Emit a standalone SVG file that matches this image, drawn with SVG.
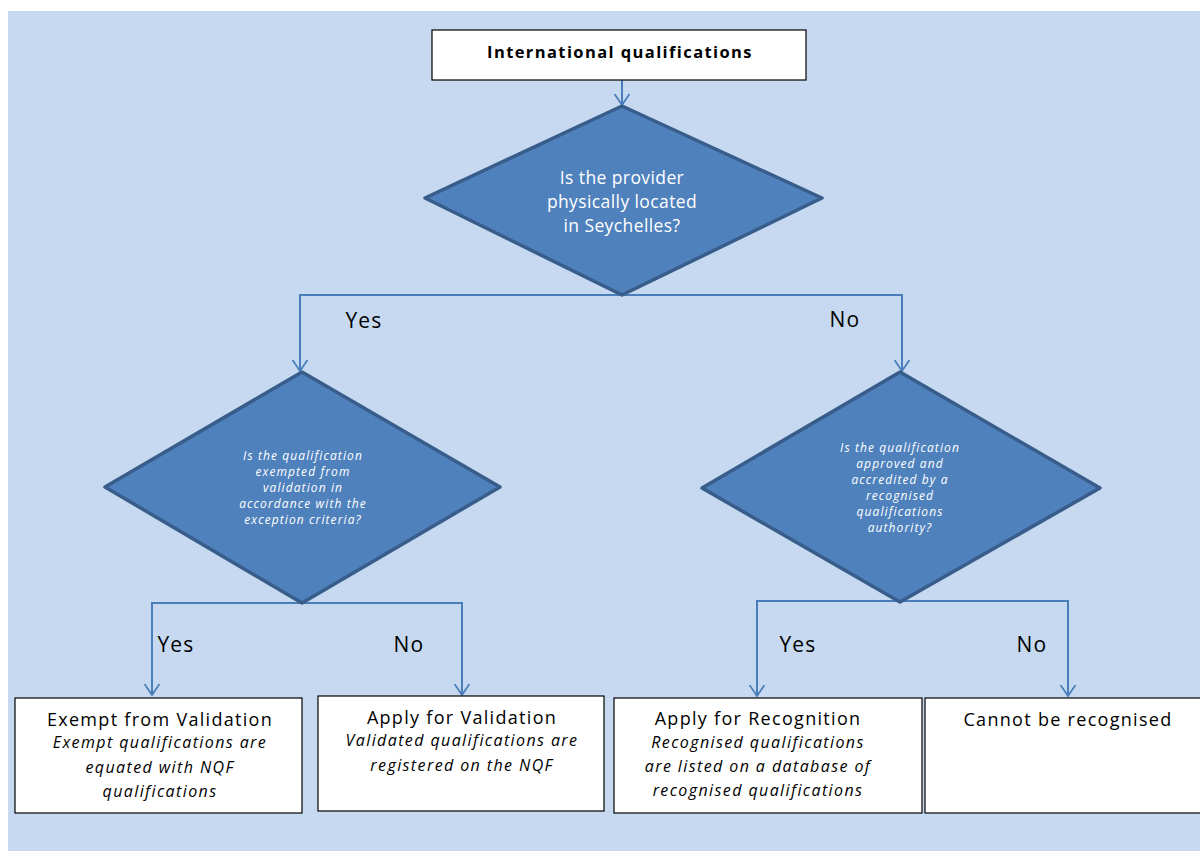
<svg xmlns="http://www.w3.org/2000/svg" width="1200" height="851" viewBox="0 0 1200 851">
<defs>
<marker id="ah" viewBox="0 0 12 16" refX="11" refY="8" markerWidth="12" markerHeight="16" markerUnits="userSpaceOnUse" orient="auto">
<path d="M0,0.5 L11,8 L0,15.5" fill="none" stroke="#4A7EBB" stroke-width="1.8"/>
</marker>
<style>
.bg{fill:#C6D9F1}
.box{fill:#FFFFFF;stroke:#000000;stroke-width:1.2}
.dia{fill:#4F81BD;stroke:#385D8A;stroke-width:3.5;stroke-linejoin:round}
.con{fill:none;stroke:#4A7EBB;stroke-width:2}
.dt{font-family:"Open Sans","Liberation Sans",sans-serif;fill:#FFFFFF;text-anchor:middle;font-size:17.5px;letter-spacing:0.4px}
.di{font-family:"Open Sans","Liberation Sans",sans-serif;fill:#FFFFFF;text-anchor:middle;font-style:italic;font-size:12px;letter-spacing:1.1px}
.lbl{font-family:"Open Sans","Liberation Sans",sans-serif;fill:#000000;font-size:21px;text-anchor:middle;letter-spacing:1.2px}
.bt{font-family:"Open Sans","Liberation Sans",sans-serif;fill:#000000;font-size:18px;text-anchor:middle;letter-spacing:1.3px}
.bi{font-family:"Open Sans","Liberation Sans",sans-serif;fill:#000000;font-size:16px;font-style:italic;text-anchor:middle;letter-spacing:1.4px}
</style>
</defs>
<rect x="0" y="0" width="1200" height="851" fill="#FFFFFF"/>
<rect class="bg" x="8" y="11" width="1192" height="840"/>

<g id="connectors">
<path class="con" d="M622,80 L622,105" marker-end="url(#ah)"/>
<path class="con" d="M622,295 L300,295 L300,371" marker-end="url(#ah)"/>
<path class="con" d="M622,295 L902,295 L902,371" marker-end="url(#ah)"/>
<path class="con" d="M302,603 L152,603 L152,695" marker-end="url(#ah)"/>
<path class="con" d="M302,603 L462,603 L462,695" marker-end="url(#ah)"/>
<path class="con" d="M900,601 L757,601 L757,696" marker-end="url(#ah)"/>
<path class="con" d="M900,601 L1068,601 L1068,696" marker-end="url(#ah)"/>
<text class="lbl" x="364" y="328">Yes</text>
<text class="lbl" x="845" y="327">No</text>
<text class="lbl" x="176" y="652">Yes</text>
<text class="lbl" x="409" y="652">No</text>
<text class="lbl" x="798" y="652">Yes</text>
<text class="lbl" x="1032" y="652">No</text>
</g>

<g id="start">
<rect class="box" x="432" y="30" width="374" height="50"/>
<text x="620" y="58" font-family="'Open Sans','Liberation Sans',sans-serif" font-weight="bold" font-size="16.5" letter-spacing="1.4" text-anchor="middle" fill="#000">International qualifications</text>
</g>

<g id="decision1">
<polygon class="dia" points="622,106 822,198 622,295 425,198"/>
<text class="dt" x="622" y="184">Is the provider</text>
<text class="dt" x="622" y="208">physically located</text>
<text class="dt" x="622" y="232">in Seychelles?</text>
</g>

<g id="decision2">
<polygon class="dia" points="302,372 500,487 302,603 105,487"/>
<text class="di" x="303" y="460">Is the qualification</text>
<text class="di" x="303" y="476">exempted from</text>
<text class="di" x="303" y="492">validation in</text>
<text class="di" x="303" y="508">accordance with the</text>
<text class="di" x="303" y="524">exception criteria?</text>
</g>

<g id="decision3">
<polygon class="dia" points="900,372 1100,488 900,602 702,488"/>
<text class="di" x="900" y="452">Is the qualification</text>
<text class="di" x="900" y="468">approved and</text>
<text class="di" x="900" y="484">accredited by a</text>
<text class="di" x="900" y="500">recognised</text>
<text class="di" x="900" y="516">qualifications</text>
<text class="di" x="900" y="532">authority?</text>
</g>

<g id="exempt">
<rect class="box" x="15" y="698" width="287" height="115"/>
<text class="bt" x="160" y="726">Exempt from Validation</text>
<text class="bi" x="160" y="748">Exempt qualifications are</text>
<text class="bi" x="160" y="773">equated with NQF</text>
<text class="bi" x="160" y="797">qualifications</text>
</g>

<g id="validation">
<rect class="box" x="318" y="696" width="286" height="115"/>
<text class="bt" x="462" y="724">Apply for Validation</text>
<text class="bi" x="462" y="746">Validated qualifications are</text>
<text class="bi" x="462" y="771">registered on the NQF</text>
</g>

<g id="recognition">
<rect class="box" x="614" y="698" width="308" height="115"/>
<text class="bt" x="758" y="725">Apply for Recognition</text>
<text class="bi" x="758" y="748">Recognised qualifications</text>
<text class="bi" x="758" y="772">are listed on a database of</text>
<text class="bi" x="758" y="796">recognised qualifications</text>
</g>

<g id="cannot">
<rect class="box" x="925" y="698" width="290" height="115"/>
<text class="bt" x="1068" y="726">Cannot be recognised</text>
</g>
</svg>
